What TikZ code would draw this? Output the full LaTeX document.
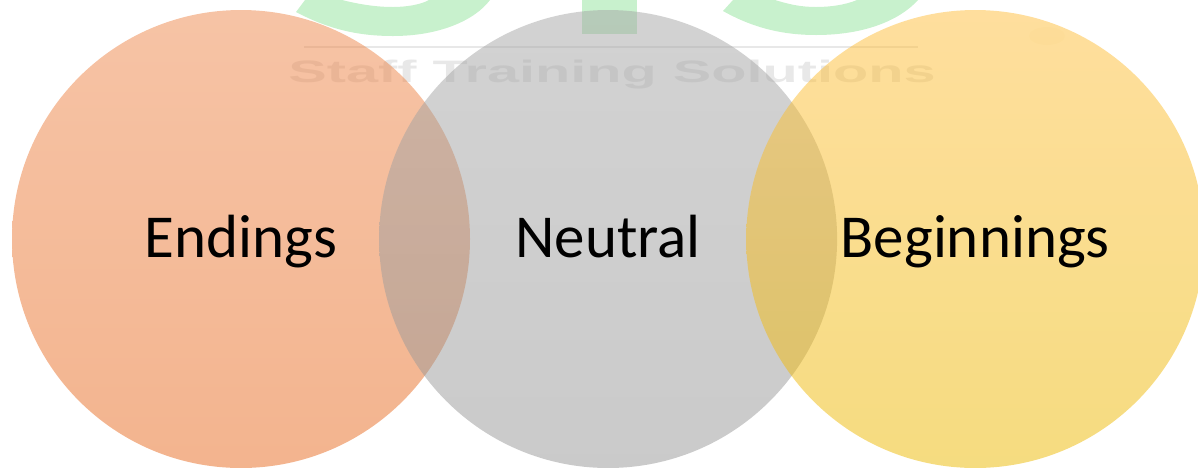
\documentclass[tikz,border=0pt]{standalone}
\usepackage{fontspec}
\setmainfont{Carlito}
\newfontfamily\markfont{Liberation Sans}
\usetikzlibrary{positioning}
\definecolor{markgreen}{RGB}{200,241,205}
\definecolor{markgrey}{RGB}{232,232,232}
\definecolor{markblob}{RGB}{252,252,248}
\begin{document}
\begin{tikzpicture}[
    x=1pt, y=-1pt,
    node distance=-91.3pt,
    ring/.style={circle, minimum size=458pt, inner sep=0pt, fill opacity=0.5, text opacity=1, text height=42pt, text depth=6pt, font=\fontsize{61}{61}\selectfont, shading angle=0},
    swoosh/.style={fill=markgreen, draw=none},
    marktext/.style={text=markgrey, font=\markfont\bfseries\fontsize{31}{31}\selectfont, xscale=1.86, transform shape, inner sep=0pt}
]
    \useasboundingbox (0,0) rectangle (1198,467);
    \clip (0,0) rectangle (1198,467);

    % watermark
    \fill[swoosh] (296,12) .. controls (330,30) and (360,36) .. (393,36) .. controls (440,36) and (475,20) .. (490,0) -- (429,0) .. controls (420,5) and (405,7) .. (393,7) .. controls (375,7) and (358,4) .. (342,0) -- (305,0) -- cycle;
    \fill[swoosh] (723,11) .. controls (755,29) and (785,35) .. (816,35) .. controls (865,35) and (900,20) .. (918,0) -- (857,0) .. controls (845,5) and (830,7) .. (816,7) .. controls (800,7) and (788,4) .. (775,0) -- (733,0) -- cycle;
    \fill[swoosh] (582,0) rectangle (637,34);
    \fill[markblob] (1047,36) ellipse [x radius=18, y radius=9];
    \coordinate (ruleleft) at (304,47);
    \coordinate (ruleright) at (918,47);
    \draw[markgrey, line width=2pt] (ruleleft) -- (ruleright);
    \node[marktext] (mark) at (612,75) {Staff Training Solutions};

    % circles
    \node[ring, top color={rgb,255:red,238;green,136;blue,76}, bottom color={rgb,255:red,231;green,105;blue,30}] (endings) at (241,239) {Endings};
    \node[ring, top color={rgb,255:red,166;green,166;blue,166}, bottom color={rgb,255:red,150;green,150;blue,150}, right=of endings] (neutral) {Neutral};
    \node[ring, top color={rgb,255:red,255;green,190;blue,60}, bottom color={rgb,255:red,236;green,185;blue,0}, right=of neutral] (beginnings) {Beginnings};
\end{tikzpicture}
\end{document}
